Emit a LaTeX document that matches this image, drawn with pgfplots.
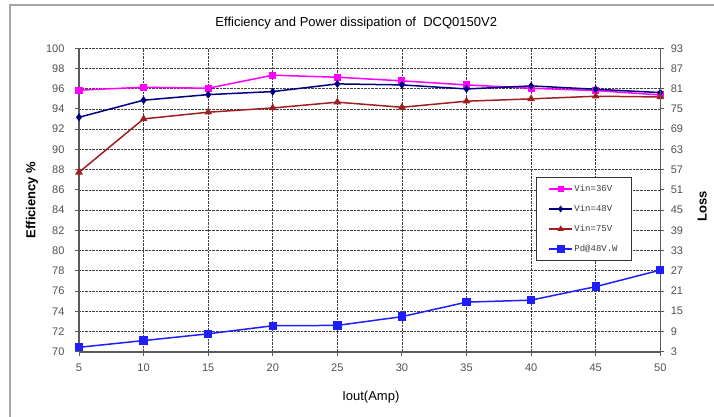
\documentclass[border=0pt]{standalone}
\usepackage{fontspec}
\setmainfont{Liberation Sans}
\newfontfamily\legfont{Liberation Mono}
\usepackage{pgfplots}
\pgfplotsset{compat=1.18}

\definecolor{cmag}{RGB}{255,0,255}
\definecolor{cnavy}{RGB}{0,0,128}
\definecolor{cdred}{RGB}{160,30,30}
\definecolor{cblue}{RGB}{30,30,255}
\definecolor{axgray}{RGB}{90,90,90}
\definecolor{tkgray}{RGB}{80,80,80}

\pgfplotsset{
  common/.style={
    scale only axis,
    width=581.3bp, height=303.4bp,
    at={(79bp,65.3bp)}, anchor=south west,
    xmin=5, xmax=50,
    xtick={5,10,...,50},
    /pgf/number format/assume math mode=true,
    tick label style={font=\fontsize{11bp}{13bp}\selectfont, text=tkgray},
    xticklabel style={yshift=-5bp},
    axis line style={axgray, line width=1.6bp},
    tick style={axgray, line width=1bp},
    tick align=outside,
    major tick length=4bp,
  },
}

\begin{document}
\begin{tikzpicture}
\useasboundingbox (0,0) rectangle (714bp,417bp);
\draw[gray!70, line width=1.5bp] (10bp,0) -- (10bp,412bp) -- (714bp,412bp);

\begin{axis}[
    common,
    axis x line*=bottom,
    axis y line*=left,
    ymin=70, ymax=100,
    ytick={70,72,...,100},
    yticklabel style={xshift=-7bp},
    xmajorgrids=true, ymajorgrids=true,
    grid style={densely dotted, black!75, line width=0.7bp},
    title={Efficiency and Power dissipation of \ DCQ0150V2},
    title style={at={(axis description cs:0.477,1.064)}, anchor=center,
      font=\fontsize{13bp}{15bp}\selectfont},
    xlabel={Iout(Amp)},
    xlabel style={at={(axis description cs:0.502,-0.149)}, anchor=center,
      font=\fontsize{13bp}{15bp}\selectfont},
    ylabel={Efficiency \%},
    ylabel style={at={(axis description cs:-0.081,0.5)}, anchor=center,
      font=\bfseries\fontsize{13bp}{15bp}\selectfont},
]
\addplot[cmag, line width=1.5bp, mark=square*, mark size=2.8bp]
  coordinates {
  (5,95.86) (10,96.15) (15,96.05) (20,97.34) (25,97.14)
  (30,96.78) (35,96.38) (40,96.05) (45,95.82) (50,95.39)
  };
\addplot[cnavy, line width=1.5bp, mark=diamond*, mark size=2.8bp]
  coordinates {
  (5,93.18) (10,94.87) (15,95.42) (20,95.72) (25,96.48)
  (30,96.38) (35,95.98) (40,96.28) (45,95.95) (50,95.62)
  };
\addplot[cdred, line width=1.5bp, mark=triangle*, mark size=3bp]
  coordinates {
  (5,87.74) (10,93.02) (15,93.68) (20,94.10) (25,94.67)
  (30,94.17) (35,94.77) (40,95.00) (45,95.26) (50,95.19)
  };
\end{axis}

\begin{axis}[
    common,
    axis x line=none,
    axis y line*=right,
    ymin=3, ymax=93,
    ytick={3,9,...,93},
    yticklabel style={xshift=3bp},
    ylabel={Loss},
    ylabel style={at={(axis description cs:1.072,0.48)}, anchor=center,
      font=\bfseries\fontsize{13bp}{15bp}\selectfont},
    legend cell align=left,
    legend image code/.code={
      \draw[mark repeat=2,mark phase=2] plot coordinates {(0bp,0bp) (11.5bp,0bp) (23bp,0bp)};},
    legend style={at={(0.786,0.576)}, anchor=north west,
      draw=black!80, line width=1bp,
      font=\legfont\fontsize{9bp}{10bp}\selectfont,
      inner xsep=12bp, inner ysep=6bp, row sep=9bp,
      nodes={inner sep=1.5bp, text=black!75}},
]
\addlegendimage{cmag, line width=1.5bp, mark=square*, mark size=2.2bp}
\addlegendentry{Vin=36V}
\addlegendimage{cnavy, line width=1.5bp, mark=diamond*, mark size=2.2bp}
\addlegendentry{Vin=48V}
\addlegendimage{cdred, line width=1.5bp, mark=triangle*, mark size=2.2bp}
\addlegendentry{Vin=75V}
\addplot[cblue, line width=1.5bp, mark=square*, mark size=3.4bp]
  coordinates {
  (5,4.3) (10,6.3) (15,8.3) (20,10.7) (25,10.8)
  (30,13.4) (35,17.7) (40,18.3) (45,22.3) (50,27.2)
  };
\addlegendentry{Pd@48V.W}
\end{axis}
\end{tikzpicture}
\end{document}
